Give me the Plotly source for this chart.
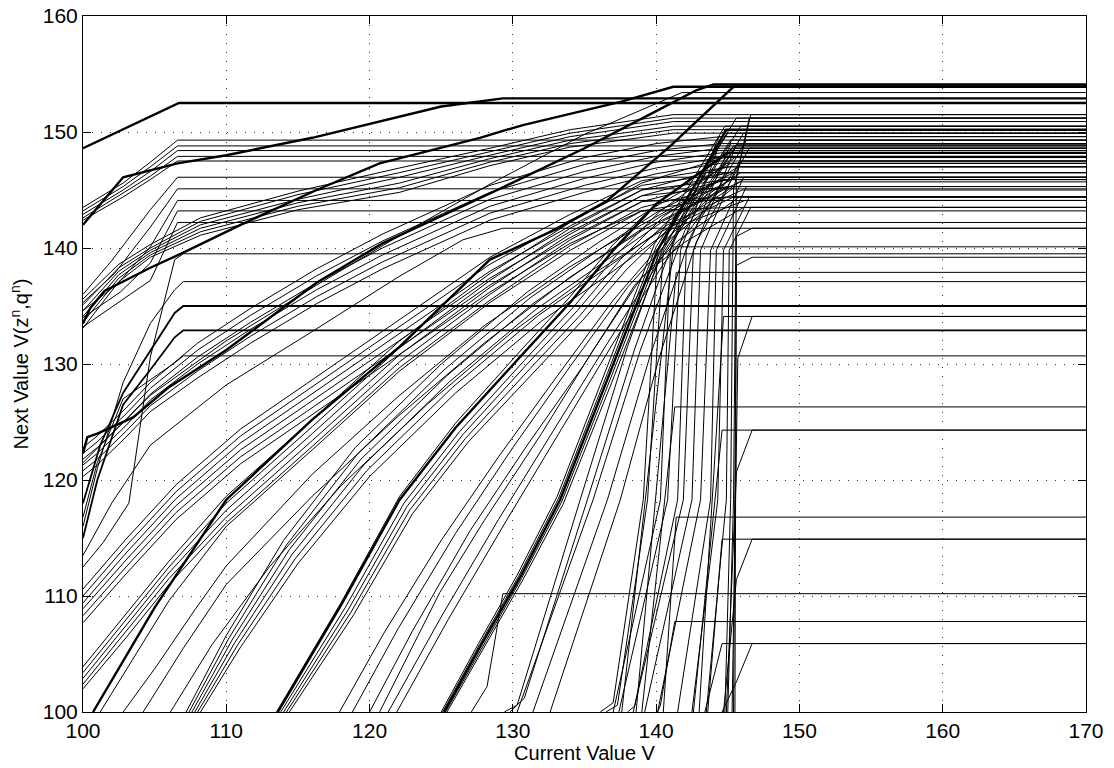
import plotly.graph_objects as go

# ---------------- data ----------------
x_ticks = [100, 110, 120, 130, 140, 150, 160, 170]
y_ticks = [100, 110, 120, 130, 140, 150, 160]

# thick curves
thick_x = [
    [100, 106.7, 170],
    [100, 102.8, 106.6, 110, 116, 120.7, 125, 129.3, 170],
    [100, 100.5, 101.5, 104.7, 107, 111, 116.3, 120.7, 127.7, 130.7, 137.5, 140.3, 141.2, 170],
    [100, 100.3, 101, 103.5, 106, 110, 116.3, 120.9, 128.4, 135, 140, 142.8, 144, 170],
    [100.7, 105, 110, 116, 122.1, 128.4, 133, 136.6, 141, 145.4, 170],
    [113.6, 118, 122.1, 126, 130.5, 134, 137, 140, 145.0, 170],
    [125.2, 127.8, 130.5, 133.3, 136.7, 140.1, 144.9, 170],
]
thick_y = [
    [148.6, 152.5, 152.5],
    [142.0, 146.1, 147.3, 148.0, 149.5, 150.9, 152.2, 152.9, 152.9],
    [133.5, 134.8, 136.3, 138.3, 139.6, 142.0, 145.0, 147.3, 149.5, 150.6, 152.6, 153.6, 153.9, 153.9],
    [122.3, 123.7, 124.0, 125.4, 128.0, 131.2, 137.0, 140.4, 144.7, 148.6, 151.8, 153.6, 154.1, 154.1],
    [100, 109, 118.3, 125.2, 131.5, 139.0, 141.6, 144.1, 148.8, 153.9, 153.9],
    [100, 109.2, 118.3, 124.5, 130.6, 135.3, 139.8, 143.8, 148.2, 148.2],
    [100, 105.8, 111.6, 118.3, 129.0, 139.8, 150.2, 150.2],
]

# upper-left bundle, flat from x=106.6
f1_x = [100, 102.8, 104.7, 106.6, 170]
f1_y = [
    [143.5, 145.6, 147.4, 149.3, 149.3],
    [143.2, 145.3, 147.0, 148.8, 148.8],
    [142.9, 145.0, 146.6, 148.4, 148.4],
    [142.6, 144.7, 146.2, 147.9, 147.9],
    [142.4, 144.4, 145.9, 147.5, 147.5],
]

# second bundle from the left edge, flat from x=106.6
f2_x = [
    [100, 102, 104.7, 106.6, 170],
    [100, 102.2, 104.7, 106.6, 170],
    [100, 102.4, 104.7, 106.6, 170],
    [100, 102.6, 104.7, 106.6, 170],
    [100, 102.8, 104.7, 106.6, 170],
]
f2_y = [
    [136.0, 138.9, 143.3, 146.1, 146.1],
    [135.3, 137.8, 141.8, 145.1, 145.1],
    [134.6, 136.9, 140.1, 144.1, 144.1],
    [134.0, 136.2, 138.7, 143.2, 143.2],
    [133.2, 135.6, 137.2, 142.2, 142.2],
]

# gentle bundle reaching ~151
f3_x = [100, 102.5, 104.7, 108.2, 115, 122.1, 128.4, 134, 141.2, 170]
f3_y = [
    [135.6, 138.6, 140.3, 142.6, 144.9, 146.9, 148.6, 150.2, 151.5, 151.5],
    [135.1, 138.3, 140.0, 142.3, 144.6, 146.5, 148.3, 149.9, 151.2, 151.2],
    [134.6, 138.0, 139.8, 142.0, 144.2, 146.1, 148.0, 149.6, 150.9, 150.9],
    [134.1, 137.7, 139.6, 141.7, 143.9, 145.6, 147.7, 149.3, 150.5, 150.5],
    [133.6, 137.4, 139.4, 141.4, 143.6, 145.2, 147.4, 149.0, 150.2, 150.2],
    [133.1, 137.1, 139.2, 141.1, 143.3, 144.8, 147.1, 148.7, 149.9, 149.9],
]

# steep lines from the left edge, flat from x=107
f2b_x = [
    [100, 101.4, 103.2, 104.7, 106.4, 107, 170],
    [100, 101, 102.8, 104.7, 106.4, 107, 170],
    [100, 101.2, 102.8, 104.7, 106.4, 107, 170],
    [100, 101, 102.8, 104.7, 106.4, 107, 170],
    [100, 101, 102.8, 104.7, 106.4, 107, 170],
]
f2b_y = [
    [112.5, 114.6, 118.0, 130.6, 139.0, 139.5, 139.5],
    [116.0, 121.0, 128.4, 133.5, 136.4, 137.1, 137.1],
    [118.0, 123.0, 127.5, 131.2, 134.4, 135.0, 135.0],
    [115.0, 120.0, 126.5, 129.5, 132.3, 132.9, 132.9],
    [116.8, 121.5, 127.0, 128.6, 130.1, 130.7, 130.7],
]
f2b_w = [1, 1, 1.8, 1.8, 1]

# bundle from the left edge near 121-123
f4_x = [100, 101, 103, 104.7, 108, 111.7, 116.3, 120.9, 128.4, 135, 140, 144.5, 170]
f4_y = [
    [122.8, 123.8, 126.2, 128.4, 131.8, 134.8, 138.2, 141.2, 145.4, 147.8, 149.0, 149.6, 149.6],
    [122.3, 123.3, 125.7, 127.9, 131.2, 134.2, 137.6, 140.6, 144.8, 147.2, 148.4, 149.0, 149.0],
    [121.8, 122.8, 125.2, 127.4, 130.6, 133.6, 137.0, 140.0, 144.2, 146.6, 147.9, 148.6, 148.6],
    [121.3, 122.3, 124.7, 126.9, 130.0, 133.0, 136.4, 139.4, 143.6, 146.0, 147.4, 148.2, 148.2],
    [120.8, 121.8, 124.2, 126.4, 129.4, 132.4, 135.8, 138.8, 143.0, 145.4, 146.9, 147.8, 147.8],
    [120.3, 121.3, 123.7, 125.9, 128.8, 131.8, 135.2, 138.2, 142.4, 144.8, 146.4, 147.3, 147.3],
]

# bundle from the left edge near 108-110
f5_x = [100, 103, 106.5, 111, 115.6, 122.1, 128.4, 134, 139, 145.2, 170]
f5_y = [
    [110.6, 114.9, 119.6, 124.4, 128.3, 133.8, 139.2, 142.9, 145.8, 147.0, 147.0],
    [110.0, 114.3, 119.0, 123.8, 127.7, 133.2, 138.6, 142.4, 145.4, 146.5, 146.5],
    [109.4, 113.7, 118.4, 123.2, 127.1, 132.6, 138.0, 141.9, 145.0, 145.9, 145.9],
    [108.9, 113.1, 117.8, 122.6, 126.5, 132.0, 137.4, 141.4, 144.5, 145.3, 145.3],
    [108.3, 112.5, 117.2, 122.0, 125.9, 131.4, 136.8, 140.9, 144.0, 144.4, 144.4],
    [107.7, 111.9, 116.6, 121.4, 125.3, 130.8, 136.2, 140.4, 143.2, 143.5, 143.5],
]

# bundle from the left edge near 102-104
f6_x = [
    [100, 103, 106, 110, 116, 122.1, 128.4, 134, 139, 145, 170],
    [100, 103, 106, 110, 116, 122.1, 128.4, 134, 139, 145, 170],
    [100, 103, 106, 110, 116, 122.1, 128.4, 134, 139, 145, 170],
    [100, 103, 106, 110, 116, 122.1, 128.4, 134, 139, 145, 170],
    [100, 103, 106, 110, 116, 122.1, 128.4, 134, 139, 145, 170],
    [101.2, 103, 106, 110, 116, 122.1, 128.4, 134, 139, 145, 170],
]
f6_y = [
    [103.9, 108.4, 113.0, 118.6, 125.2, 132.0, 137.8, 142.2, 145.6, 147.9, 147.9],
    [103.4, 107.9, 112.5, 118.0, 124.6, 131.4, 137.2, 141.7, 145.0, 147.0, 147.0],
    [102.9, 107.4, 112.0, 117.4, 124.0, 130.8, 136.6, 141.2, 144.5, 146.5, 146.5],
    [102.4, 106.9, 111.5, 116.8, 123.4, 130.2, 136.0, 140.7, 144.0, 145.9, 145.9],
    [102.0, 106.4, 111.0, 116.3, 122.9, 129.7, 135.5, 140.2, 143.5, 145.3, 145.3],
    [100.0, 103.6, 109.6, 116.0, 122.6, 129.4, 135.3, 139.8, 143.2, 144.4, 144.4],
]

# single lines and bundles starting on the bottom edge
mid_x = [
    [102.8, 105.1, 107.8, 110, 116, 122, 128, 134, 139, 144.6, 170],
    [104.2, 107, 110, 116, 122, 128, 134, 139, 145.0, 170],
    [106.1, 109, 113, 118, 124, 130, 135, 140, 145.4, 170],
    [107.2, 110, 114, 119, 125, 131, 136, 140, 145.2, 170],
    [107.4, 110.2, 114.2, 119.2, 125.2, 131.2, 136.2, 140.2, 145.4, 170],
    [107.6, 110.4, 114.4, 119.4, 125.4, 131.4, 136.4, 140.4, 145.6, 170],
    [107.8, 110.6, 114.6, 119.6, 125.6, 131.6, 136.6, 140.6, 145.8, 170],
    [108.0, 110.8, 114.8, 119.8, 125.8, 131.8, 136.8, 140.8, 146.0, 170],
    [108.2, 111.0, 115.0, 120.0, 126.0, 132.0, 137.0, 141.0, 146.2, 170],
    [113.5, 118, 122.1, 126, 130.5, 134, 137, 140, 145.3, 170],
    [113.8, 118.3, 122.4, 126.3, 130.8, 134.3, 137.3, 140.3, 145.5, 170],
    [114.0, 118.5, 122.6, 126.5, 131.0, 134.5, 137.5, 140.5, 145.7, 170],
    [114.2, 118.7, 122.8, 126.7, 131.2, 134.7, 137.7, 140.7, 145.9, 170],
    [114.4, 118.9, 123.0, 126.9, 131.4, 134.9, 137.9, 140.9, 146.1, 170],
    [117.9, 121, 125, 129, 133, 137, 140.5, 145.2, 170],
    [118.8, 122, 126, 130, 134, 138, 141, 145.5, 170],
    [120.0, 123, 127, 131, 135, 138.5, 141.5, 145.8, 170],
    [120.7, 124.9, 128, 132, 135.5, 139, 142, 146.1, 170],
    [121.3, 125, 129, 133, 136.5, 140, 145.6, 170],
    [121.9, 125.5, 129.5, 133.5, 137, 140.5, 146.0, 170],
    [125.0, 127.6, 130.3, 133.1, 136.5, 139.9, 144.8, 170],
    [125.1, 127.7, 130.4, 133.2, 136.6, 140.0, 145.0, 170],
    [125.3, 127.9, 130.6, 133.4, 136.8, 140.2, 145.2, 170],
    [125.4, 128.0, 130.7, 133.5, 136.9, 140.3, 145.4, 170],
    [129.4, 130.3, 134.7, 138.0, 141.2, 145.6, 170],
    [129.8, 130.8, 135.2, 138.5, 141.6, 145.9, 170],
    [130.3, 135.6, 138.9, 142.0, 146.1, 170],
    [131.4, 136.6, 139.6, 142.4, 146.3, 170],
    [132.6, 137.5, 140.2, 142.8, 146.5, 170],
    [100, 102, 104.7, 110, 116, 122, 126.5, 129.3, 170],
    [100, 104.7, 110, 116.3, 122, 128.4, 135, 141.8, 170],
]
mid_y = [
    [100, 103.9, 108.8, 112.6, 120.5, 127.2, 133.3, 138.4, 142.0, 145.9, 145.9],
    [100, 105.5, 111.0, 118.6, 125.5, 131.8, 137.5, 141.5, 145.3, 145.3],
    [100, 105.8, 112.5, 119.5, 126.5, 132.8, 137.3, 141.2, 144.4, 144.4],
    [100, 106.6, 114.8, 122.8, 130.0, 136.2, 140.5, 143.6, 147.3, 147.3],
    [100, 106.4, 114.4, 122.3, 129.5, 135.7, 140.0, 143.2, 146.5, 146.5],
    [100, 106.2, 114.0, 121.8, 129.0, 135.2, 139.5, 142.8, 146.1, 146.1],
    [100, 106.0, 113.6, 121.3, 128.5, 134.7, 139.0, 142.4, 145.7, 145.7],
    [100, 105.8, 113.2, 120.8, 128.0, 134.2, 138.5, 142.0, 145.0, 145.0],
    [100, 105.6, 112.8, 120.3, 127.5, 133.7, 138.0, 141.6, 144.1, 144.1],
    [100, 109.4, 118.6, 124.9, 131.1, 135.8, 140.3, 143.8, 148.6, 148.6],
    [100, 109.0, 118.0, 124.2, 130.3, 135.0, 139.5, 143.2, 147.8, 147.8],
    [100, 108.8, 117.7, 123.9, 130.0, 134.6, 139.0, 142.7, 147.0, 147.0],
    [100, 108.6, 117.4, 123.6, 129.6, 134.2, 138.6, 142.2, 146.5, 146.5],
    [100, 108.4, 117.1, 123.3, 129.2, 133.8, 138.1, 141.7, 145.9, 145.9],
    [100, 106.8, 114.8, 122.0, 128.8, 135.5, 140.5, 146.1, 146.1],
    [100, 107.2, 115.4, 122.8, 129.8, 136.6, 140.8, 145.3, 145.3],
    [100, 107.0, 115.6, 123.0, 130.0, 136.8, 140.6, 144.4, 144.4],
    [100, 110.3, 116.5, 124.0, 131.0, 137.5, 140.5, 143.5, 143.5],
    [100, 108.2, 116.6, 124.6, 131.6, 138.4, 148.9, 148.9],
    [100, 108.0, 116.4, 124.6, 131.8, 138.6, 147.5, 147.5],
    [100, 105.9, 111.8, 118.6, 129.5, 140.4, 150.5, 150.5],
    [100, 105.85, 111.7, 118.45, 129.2, 140.1, 149.9, 149.9],
    [100, 105.7, 111.5, 118.1, 128.7, 139.5, 149.3, 149.3],
    [100, 105.6, 111.4, 117.9, 128.4, 139.2, 148.8, 148.8],
    [100, 100.6, 118.3, 131.5, 142.5, 151.2, 151.2],
    [100, 101.2, 118.3, 131.3, 142.0, 150.5, 150.5],
    [100, 118.3, 131.2, 141.5, 149.9, 149.9],
    [100, 118.3, 130.8, 141.0, 149.3, 149.3],
    [100, 118.3, 130.5, 140.5, 148.6, 148.6],
    [113.5, 118.0, 123.0, 128.2, 132.8, 137.5, 140.7, 141.7, 141.7],
    [121.5, 127.3, 132.0, 136.8, 141.0, 145.5, 149.8, 153.4, 153.4],
]

# steep lines near x = 136..146
steep_x = [
    [136.1, 137.0, 139.1, 140.1, 143.5, 170],
    [136.5, 137.3, 139.4, 140.5, 144.0, 170],
    [137.0, 140.3, 141.0, 144.4, 170],
    [137.4, 140.8, 141.7, 144.8, 170],
    [138.0, 138.5, 141.5, 142.1, 145.2, 170],
    [138.4, 141.9, 142.6, 145.5, 170],
    [139.2, 142.5, 143.1, 145.8, 170],
    [140.1, 143.1, 143.8, 146.1, 170],
    [141.5, 143.8, 144.2, 146.3, 170],
    [142.5, 144.3, 144.7, 146.5, 170],
    [143.5, 144.9, 145.1, 146.6, 170],
    [144.8, 145.2, 145.4, 146.5, 170],
    [145.0, 145.4, 145.6, 146.6, 170],
    [143.4, 144.6, 170],
    [144.6, 145.6, 146.7, 170],
    [140.1, 140.3, 141.3, 170],
    [127.1, 128.2, 129.3, 170],
    [143.6, 144.6, 170],
    [144.7, 145.6, 146.7, 170],
    [140.5, 141.4, 170],
    [142.6, 144.6, 170],
    [144.9, 145.6, 146.7, 170],
    [139.0, 141.3, 170],
    [143.0, 144.7, 170],
    [145.3, 145.7, 146.7, 170],
    [138.6, 141.4, 170],
    [145.4, 145.6, 146.7, 170],
    [137.6, 141.2, 170],
    [145.5, 145.6, 146.7, 170],
]
steep_y = [
    [100, 100.8, 118.3, 139.8, 146.5, 146.5],
    [100, 100.6, 118.3, 139.8, 147.8, 147.8],
    [100, 118.3, 139.8, 149.6, 149.6],
    [100, 118.3, 139.8, 150.2, 150.2],
    [100, 100.5, 118.3, 139.8, 149.0, 149.0],
    [100, 118.3, 139.8, 148.6, 148.6],
    [100, 118.3, 139.8, 147.5, 147.5],
    [100, 118.3, 139.8, 146.1, 146.1],
    [100, 118.3, 139.8, 145.3, 145.3],
    [100, 118.3, 139.8, 144.4, 144.4],
    [100, 118.3, 139.8, 143.5, 143.5],
    [100, 118.3, 145.0, 151.2, 151.2],
    [100, 118.3, 146.0, 151.5, 151.5],
    [100, 105.9, 105.9],
    [100, 102.6, 105.9, 105.9],
    [100, 100.6, 107.8, 107.8],
    [100, 102.2, 110.2, 110.2],
    [100, 114.9, 114.9],
    [100, 111.4, 114.9, 114.9],
    [100, 116.8, 116.8],
    [100, 124.3, 124.3],
    [100, 120.7, 124.3, 124.3],
    [100, 126.3, 126.3],
    [100, 134.1, 134.1],
    [100, 130.5, 134.1, 134.1],
    [100, 137.9, 137.9],
    [100, 138.5, 139.2, 139.2],
    [100, 140.1, 140.1],
    [100, 141.0, 141.7, 141.7],
]

# ---------------- figure ----------------
fig = go.Figure()


def add(xs, ys, width):
    fig.add_trace(go.Scatter(
        x=xs, y=ys, mode="lines",
        line=dict(color="black", width=width),
        hoverinfo="skip", showlegend=False,
    ))


for ys in f1_y:
    add(f1_x, ys, 1)
for xs, ys in zip(f2_x, f2_y):
    add(xs, ys, 1)
for ys in f3_y:
    add(f3_x, ys, 1)
for xs, ys, w in zip(f2b_x, f2b_y, f2b_w):
    add(xs, ys, w)
for ys in f4_y:
    add(f4_x, ys, 1)
for ys in f5_y:
    add(f5_x, ys, 1)
for xs, ys in zip(f6_x, f6_y):
    add(xs, ys, 1)
for xs, ys in zip(mid_x, mid_y):
    add(xs, ys, 1)
for xs, ys in zip(steep_x, steep_y):
    add(xs, ys, 1)
for xs, ys in zip(thick_x, thick_y):
    add(xs, ys, 2.4)

font_family = "Liberation Sans, Arial, Helvetica, sans-serif"
axis_common = dict(
    showline=True, linecolor="black", linewidth=1, mirror="ticks",
    ticks="inside", ticklen=8, tickcolor="black", tickwidth=1,
    showgrid=True, gridcolor="#333333", gridwidth=1, griddash="1px,8px",
    zeroline=False, automargin=False, ticklabeloverflow="allow",
    tickfont=dict(size=21, color="black", family=font_family),
)
fig.update_xaxes(range=[100, 170], tickvals=x_ticks, ticktext=[str(v) for v in x_ticks],
                 title=dict(text="Current Value V", font=dict(size=20, color="black", family=font_family),
                            standoff=2),
                 **axis_common)
fig.update_yaxes(range=[100, 160], tickvals=y_ticks, ticktext=[str(v) for v in y_ticks],
                 title=dict(text="Next Value V(z<sup>n</sup>,q<sup>n</sup>)",
                            font=dict(size=20, color="black", family=font_family), standoff=8),
                 **axis_common)
fig.update_layout(
    width=1114, height=768,
    margin=dict(l=83, r=28, t=16, b=56),
    plot_bgcolor="white", paper_bgcolor="white",
)
fig.write_html("out.html", config={"displayModeBar": False},
               post_script="document.body.style.margin='0';")
